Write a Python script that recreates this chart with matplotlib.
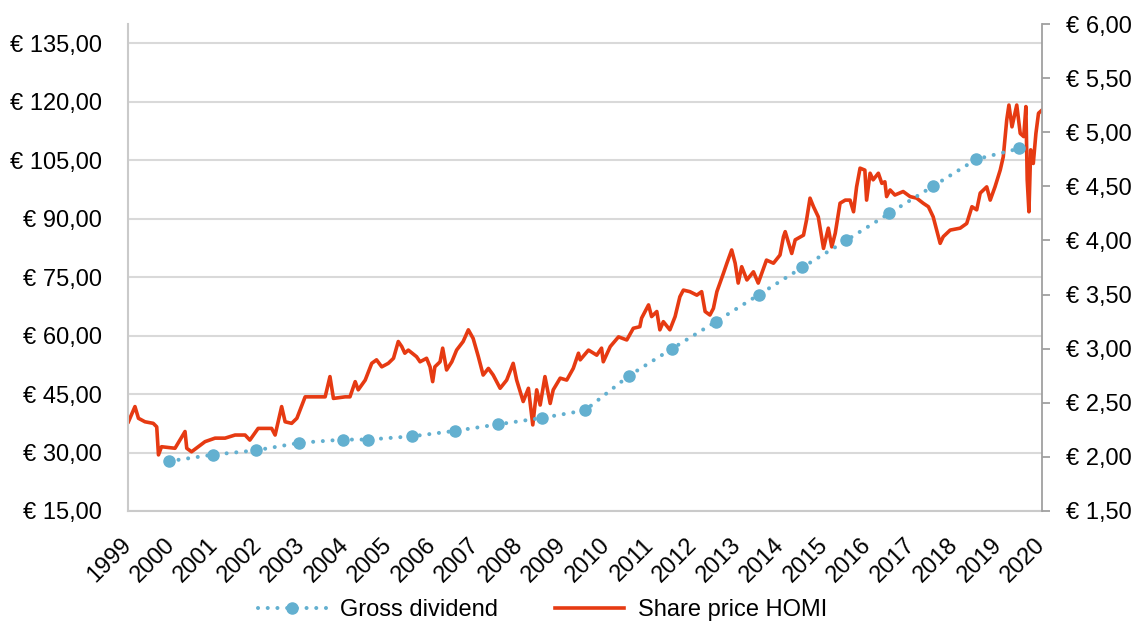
import matplotlib
matplotlib.use("Agg")
import matplotlib.pyplot as plt
from matplotlib.ticker import FuncFormatter

plt.rcParams['font.family'] = ['Liberation Sans', 'DejaVu Sans']

# share price HOMI (left axis)
price_years = [1999.01, 1999.16, 1999.24, 1999.39, 1999.58, 1999.66, 1999.70, 1999.77, 2000.08, 2000.31,
               2000.35, 2000.46, 2000.77, 2001.00, 2001.23, 2001.46, 2001.69, 2001.80, 2001.99, 2002.30,
               2002.38, 2002.53, 2002.61, 2002.76, 2002.88, 2003.07, 2003.34, 2003.53, 2003.64, 2003.72,
               2003.99, 2004.10, 2004.22, 2004.29, 2004.45, 2004.60, 2004.71, 2004.83, 2004.98, 2005.10,
               2005.21, 2005.29, 2005.36, 2005.44, 2005.63, 2005.71, 2005.86, 2005.94, 2006.00, 2006.05,
               2006.17, 2006.23, 2006.32, 2006.44, 2006.55, 2006.70, 2006.82, 2006.93, 2007.05, 2007.16,
               2007.28, 2007.39, 2007.55, 2007.70, 2007.85, 2007.93, 2008.08, 2008.20, 2008.30, 2008.39,
               2008.47, 2008.58, 2008.70, 2008.77, 2008.93, 2009.08, 2009.23, 2009.35, 2009.39, 2009.58,
               2009.77, 2009.88, 2009.92, 2010.08, 2010.27, 2010.46, 2010.61, 2010.76, 2010.80, 2010.96,
               2011.03, 2011.15, 2011.22, 2011.30, 2011.45, 2011.57, 2011.68, 2011.76, 2011.91, 2012.07,
               2012.18, 2012.26, 2012.37, 2012.45, 2012.53, 2012.68, 2012.76, 2012.87, 2012.95, 2013.02,
               2013.10, 2013.22, 2013.37, 2013.48, 2013.56, 2013.67, 2013.83, 2013.98, 2014.06, 2014.10,
               2014.25, 2014.33, 2014.52, 2014.59, 2014.67, 2014.75, 2014.86, 2014.98, 2015.09, 2015.17,
               2015.25, 2015.36, 2015.48, 2015.59, 2015.67, 2015.74, 2015.82, 2015.93, 2015.97, 2016.05,
               2016.12, 2016.24, 2016.32, 2016.39, 2016.43, 2016.51, 2016.62, 2016.81, 2016.97, 2017.12,
               2017.27, 2017.39, 2017.50, 2017.58, 2017.66, 2017.73, 2017.89, 2018.12, 2018.27, 2018.39,
               2018.50, 2018.58, 2018.73, 2018.81, 2018.92, 2019.04, 2019.11, 2019.19, 2019.24, 2019.31,
               2019.42, 2019.50, 2019.58, 2019.63, 2019.66, 2019.70, 2019.74, 2019.80, 2019.86, 2019.92,
               2020.00]
price_values = [37.9, 41.8, 38.8, 37.9, 37.5, 36.6, 29.4, 31.5, 31.1, 35.4,
                31.1, 30.2, 32.8, 33.7, 33.7, 34.5, 34.5, 33.2, 36.2, 36.2,
                34.5, 41.8, 37.9, 37.5, 38.8, 44.3, 44.3, 44.3, 49.5, 43.9,
                44.3, 44.3, 48.2, 46.1, 48.6, 52.9, 53.8, 52.0, 52.9, 54.2,
                58.5, 57.2, 55.5, 56.3, 54.6, 53.3, 54.2, 52.0, 48.2, 52.0,
                53.3, 56.8, 51.2, 53.3, 56.3, 58.5, 61.5, 59.3, 54.6, 49.9,
                51.6, 49.9, 46.5, 48.6, 52.9, 48.6, 43.1, 46.5, 37.1, 46.1,
                42.2, 49.5, 42.6, 46.1, 49.1, 48.6, 51.6, 55.5, 53.8, 56.3,
                55.0, 56.8, 53.3, 57.2, 59.7, 58.9, 61.9, 62.3, 64.5, 67.9,
                64.9, 66.2, 61.5, 63.6, 61.5, 64.9, 70.0, 71.7, 71.3, 70.4,
                71.3, 66.2, 65.3, 67.0, 71.3, 76.0, 78.6, 82.0, 78.6, 73.5,
                77.7, 74.3, 76.4, 73.5, 76.0, 79.4, 78.6, 80.7, 85.4, 86.7,
                81.1, 84.6, 85.8, 89.7, 95.3, 93.1, 90.5, 82.4, 87.6, 82.8,
                86.3, 94.0, 94.8, 94.8, 91.8, 98.2, 103.0, 102.5, 94.8, 101.7,
                100.0, 101.7, 99.1, 99.5, 95.7, 97.4, 96.1, 97.0, 95.7, 95.3,
                94.0, 93.1, 90.5, 87.1, 83.7, 85.4, 87.1, 87.6, 88.8, 93.1,
                92.3, 96.6, 98.2, 94.8, 98.2, 102.5, 105.9, 115.4, 119.2, 113.6,
                119.2, 111.9, 111.1, 118.8, 100.0, 91.8, 107.7, 104.2, 111.9, 117.1,
                117.9]

# gross dividend (right axis)
div_years = [1999.94, 2000.95, 2001.93, 2002.94, 2003.94, 2004.51, 2005.52, 2006.51, 2007.49, 2008.51,
             2009.50, 2010.51, 2011.50, 2012.51, 2013.50, 2014.49, 2015.50, 2016.49, 2017.49, 2018.49,
             2019.48]
div_values = [1.96, 2.02, 2.06, 2.13, 2.16, 2.16, 2.19, 2.24, 2.30, 2.36,
              2.43, 2.75, 3.00, 3.25, 3.50, 3.75, 4.00, 4.25, 4.50, 4.75,
              4.85]

year_labels = [str(y) for y in range(1999, 2021)]
price_ticks = [15, 30, 45, 60, 75, 90, 105, 120, 135]
div_ticks = [1.5, 2.0, 2.5, 3.0, 3.5, 4.0, 4.5, 5.0, 5.5, 6.0]

red = '#E63A12'
blue = '#63B0D0'
fs = 17


def euro(v, pos=None):
    return f"€ {v:.2f}".replace('.', ',')


fig = plt.figure(figsize=(11.42, 6.24), dpi=100)
ax = fig.add_axes([128 / 1142, 1 - 511 / 624, (1042 - 128) / 1142, (511 - 24) / 624])
ax2 = ax.twinx()

price_line, = ax.plot(price_years, price_values, color=red, lw=2.6, solid_joinstyle='round',
                      label='Share price HOMI')
div_line, = ax2.plot(div_years, div_values, color=blue, lw=2.9, ls=(0, (0.01, 2.4)),
                     dash_capstyle='round', marker='o', ms=8, label='Gross dividend')

ax.set_xlim(1999, 2020)
ax.set_ylim(15, 140)
ax2.set_ylim(1.5, 6.0)

ax.set_yticks(price_ticks)
ax.yaxis.set_major_formatter(FuncFormatter(euro))
ax2.set_yticks(div_ticks)
ax2.yaxis.set_major_formatter(FuncFormatter(euro))

ax.set_xticks(range(1999, 2021))
ax.set_xticklabels(year_labels, rotation=45, ha='right', va='center', rotation_mode='anchor')

ax.grid(axis='y', color='#D9D9D9', lw=1.5)
ax.set_axisbelow(True)

ax.tick_params(axis='y', length=0, pad=19, labelsize=fs)
ax.tick_params(axis='x', length=0, pad=22, labelsize=fs)
ax2.tick_params(axis='y', length=6, width=1.3, color='#A0A0A0', pad=11, labelsize=fs)

for a in (ax, ax2):
    a.spines['top'].set_visible(False)
ax.spines['right'].set_visible(False)
ax.spines['left'].set_color('#CACACA')
ax.spines['left'].set_linewidth(1.5)
ax.spines['bottom'].set_color('#CACACA')
ax.spines['bottom'].set_linewidth(1.5)
ax2.spines['left'].set_visible(False)
ax2.spines['bottom'].set_visible(False)
ax2.spines['right'].set_color('#A0A0A0')
ax2.spines['right'].set_linewidth(1.3)

fig.legend(handles=[div_line, price_line], loc='center', bbox_to_anchor=(0.475, 1 - 610 / 624),
           ncol=2, frameon=False, fontsize=fs, handlelength=2.9, handletextpad=0.6,
           columnspacing=2.4)

fig.savefig('out.png', dpi=100)
